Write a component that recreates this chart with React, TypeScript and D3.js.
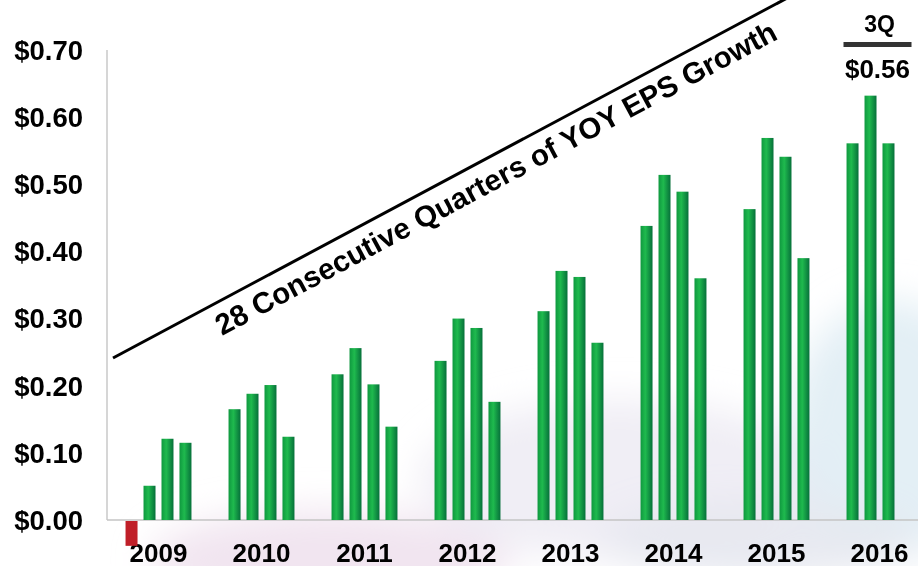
import { useEffect, useRef } from "react";
import * as d3 from "d3";

// EPS per quarter, by year
const years = ["2009", "2010", "2011", "2012", "2013", "2014", "2015", "2016"];
const quarters = ["Q1", "Q2", "Q3", "Q4"];
const eps2009 = [-0.037, 0.051, 0.121, 0.115];
const eps2010 = [0.165, 0.188, 0.201, 0.124];
const eps2011 = [0.217, 0.256, 0.202, 0.139];
const eps2012 = [0.237, 0.3, 0.286, 0.176];
const eps2013 = [0.311, 0.371, 0.362, 0.264];
const eps2014 = [0.438, 0.514, 0.489, 0.36];
const eps2015 = [0.463, 0.569, 0.541, 0.39];
const eps2016 = [0.561, 0.632, 0.561];
const yTicks = [0, 0.1, 0.2, 0.3, 0.4, 0.5, 0.6, 0.7];
const titre = "28 Consecutive Quarters of YOY EPS Growth";

const FONT = "'Liberation Sans', Arial, sans-serif";

const App = () => {
  const ref = useRef<SVGSVGElement | null>(null);

  useEffect(() => {
    if (!ref.current) return;
    const W = 918;
    const H = 566;
    const svg = d3.select(ref.current);
    svg.selectAll("*").remove();

    const parAnnee = [eps2009, eps2010, eps2011, eps2012, eps2013, eps2014, eps2015, eps2016];
    const donnees = years.flatMap((yr, i) =>
      parAnnee[i].map((v, j) => ({ annee: yr, trimestre: quarters[j], valeur: v }))
    );

    const left = 107;
    const y = d3.scaleLinear().domain([0, 0.7]).range([520, 50]);
    const x0 = d3
      .scaleBand()
      .domain(years)
      .range([left, left + 8 * 103])
      .paddingInner(0.36)
      .paddingOuter(0.18);
    const x1 = d3
      .scaleBand()
      .domain(quarters)
      .range([0, x0.bandwidth()])
      .paddingInner(1 / 3);

    const defs = svg.append("defs");
    const grad = defs
      .append("linearGradient")
      .attr("id", "barre")
      .attr("x1", "0")
      .attr("x2", "1")
      .attr("y1", "0")
      .attr("y2", "0");
    grad.append("stop").attr("offset", "0").attr("stop-color", "#0f983f");
    grad.append("stop").attr("offset", "0.4").attr("stop-color", "#1fba4e");
    grad.append("stop").attr("offset", "1").attr("stop-color", "#06703a");

    defs
      .append("filter")
      .attr("id", "flou")
      .attr("x", "-50%")
      .attr("y", "-50%")
      .attr("width", "200%")
      .attr("height", "200%")
      .append("feGaussianBlur")
      .attr("stdDeviation", 18);

    // fond blanc + teinte douce en bas
    svg.append("rect").attr("width", W).attr("height", H).attr("fill", "#fff");
    const fond = svg.append("g").attr("filter", "url(#flou)");
    fond.append("ellipse").attr("cx", 330).attr("cy", 560).attr("rx", 180).attr("ry", 50).attr("fill", "#efe2ee").attr("opacity", 0.9);
    fond.append("ellipse").attr("cx", 620).attr("cy", 480).attr("rx", 200).attr("ry", 80).attr("fill", "#eceaf2").attr("opacity", 0.8);
    fond.append("ellipse").attr("cx", 890).attr("cy", 430).attr("rx", 100).attr("ry", 130).attr("fill", "#dcebf3").attr("opacity", 0.8);
    fond.append("ellipse").attr("cx", 760).attr("cy", 540).attr("rx", 160).attr("ry", 40).attr("fill", "#e6e8f0").attr("opacity", 0.9);

    // axes
    svg
      .append("line")
      .attr("x1", left)
      .attr("x2", left)
      .attr("y1", y(0.7))
      .attr("y2", y(0))
      .attr("stroke", "#c8c8c8")
      .attr("stroke-width", 1.5);
    svg
      .append("line")
      .attr("x1", left)
      .attr("x2", W)
      .attr("y1", y(0))
      .attr("y2", y(0))
      .attr("stroke", "#c4c4c4")
      .attr("stroke-width", 1.5);

    svg
      .append("g")
      .selectAll("text")
      .data(yTicks)
      .enter()
      .append("text")
      .attr("x", 83)
      .attr("y", (d) => y(d))
      .attr("dy", "0.36em")
      .attr("text-anchor", "end")
      .style("font-family", FONT)
      .style("font-weight", "700")
      .style("font-size", "27.5px")
      .style("fill", "#000")
      .text((d) => `$${d.toFixed(2)}`);

    svg
      .append("g")
      .selectAll("text")
      .data(years)
      .enter()
      .append("text")
      .attr("x", (d) => (x0(d) as number) + x0.bandwidth() / 2)
      .attr("y", 562)
      .attr("text-anchor", "middle")
      .style("font-family", FONT)
      .style("font-weight", "700")
      .style("font-size", "26px")
      .style("fill", "#000")
      .text((d) => d);

    // barres
    svg
      .append("g")
      .selectAll("rect")
      .data(donnees)
      .enter()
      .append("rect")
      .attr("x", (d) => (x0(d.annee) as number) + (x1(d.trimestre) as number))
      .attr("y", (d) => (d.valeur >= 0 ? y(d.valeur) : y(0) + 1))
      .attr("width", x1.bandwidth())
      .attr("height", (d) => Math.abs(y(d.valeur) - y(0)))
      .attr("fill", (d) => (d.valeur >= 0 ? "url(#barre)" : "#c01f28"));

    // ligne de tendance + titre
    const angle = -28.1;
    const rad = (angle * Math.PI) / 180;
    const x0l = 113;
    const y0l = 358;
    svg
      .append("line")
      .attr("x1", x0l)
      .attr("y1", y0l)
      .attr("x2", x0l + 800 * Math.cos(rad))
      .attr("y2", y0l + 800 * Math.sin(rad))
      .attr("stroke", "#000")
      .attr("stroke-width", 3);

    svg
      .append("text")
      .attr("transform", `translate(222,336) rotate(${angle})`)
      .style("font-family", FONT)
      .style("font-weight", "700")
      .style("font-size", "29.5px")
      .style("fill", "#000")
      .text(titre);

    // annotation 3Q 2016
    const cx2016 = (x0("2016") as number) + x0.bandwidth() / 2;
    svg
      .append("text")
      .attr("x", cx2016)
      .attr("y", 32)
      .attr("text-anchor", "middle")
      .style("font-family", FONT)
      .style("font-weight", "700")
      .style("font-size", "23px")
      .text("3Q");
    svg
      .append("line")
      .attr("x1", cx2016 - 36)
      .attr("x2", cx2016 + 32)
      .attr("y1", 44.5)
      .attr("y2", 44.5)
      .attr("stroke", "#333")
      .attr("stroke-width", 5);
    svg
      .append("text")
      .attr("x", cx2016 - 2)
      .attr("y", 78)
      .attr("text-anchor", "middle")
      .style("font-family", FONT)
      .style("font-weight", "700")
      .style("font-size", "26px")
      .text(`$${eps2016[2].toFixed(2)}`);
  }, []);

  return (
    <div style={{ position: "fixed", left: 0, top: 0, width: 918, height: 566, overflow: "hidden" }}>
      <svg ref={ref} width={918} height={566} style={{ display: "block" }} />
    </div>
  );
};

export default App;
